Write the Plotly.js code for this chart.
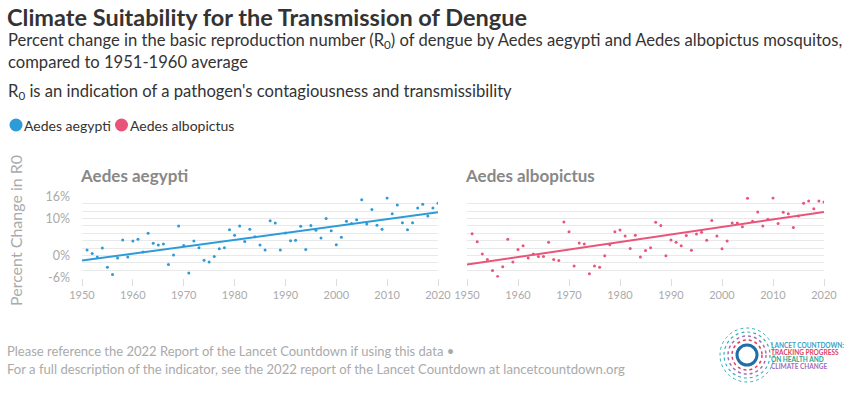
<!DOCTYPE html>
<html>
<head>
<meta charset="utf-8">
<script src="https://cdn.plot.ly/plotly-3.0.1.min.js"></script>
<style>
  html, body { margin: 0; padding: 0; background: #fff; }
  #chart { width: 849px; height: 393px; }
</style>
</head>
<body>
<div id="chart"></div>
<script>
// ---- data ----
const years = [1951,1952,1953,1954,1955,1956,1957,1958,1959,1960,
  1961,1962,1963,1964,1965,1966,1967,1968,1969,1970,
  1971,1972,1973,1974,1975,1976,1977,1978,1979,1980,
  1981,1982,1983,1984,1985,1986,1987,1988,1989,1990,
  1991,1992,1993,1994,1995,1996,1997,1998,1999,2000,
  2001,2002,2003,2004,2005,2006,2007,2008,2009,2010,
  2011,2012,2013,2014,2015,2016,2017,2018,2019,2020];

const aegypti = [1.45,0.54,-0.45,2.0,-3.2,-5.2,-0.7,4.2,-0.45,3.9,
  4.4,0.9,6.0,3.3,2.8,3.1,-2.5,0.1,8.0,2.7,
  -4.8,3.9,2.1,-1.3,-1.8,-0.3,1.8,2.1,7.0,5.5,
  8.0,3.8,7.1,5.1,2.8,1.45,9.4,8.8,1.45,6.1,
  4.0,4.1,7.9,1.6,8.1,6.8,4.7,10.0,6.7,2.9,
  4.9,9.3,8.7,9.7,15.1,8.5,12.5,8.2,7.1,15.6,
  11.3,13.7,8.9,7.0,8.9,12.9,13.9,10.7,12.9,14.2];

const albopictus = [5.9,3.7,0.4,-1.1,-4.1,-5.7,-3.1,4.4,-1.8,1.6,
  2.6,-0.7,0.4,-0.3,-0.3,3.6,-1.1,-1.4,9.1,6.4,
  -2.9,3.4,3.1,-5.0,-2.9,-3.2,-0.1,2.9,6.4,6.9,
  5.3,1.9,5.5,-0.4,1.3,2.1,9.0,8.1,-0.1,4.2,
  3.6,2.6,5.4,1.4,5.8,6.3,4.1,9.5,5.3,1.8,
  3.9,8.8,8.8,7.8,15.5,9.3,11.8,8.0,9.8,15.6,
  8.7,11.7,11.3,7.6,10.7,14.2,14.8,12.7,14.8,14.5];

// trend lines
const trendYears = [1950, 2020];
const aegyptiTrend = [-1.4, 11.7];
const albopictusTrend = [-2.5, 11.8];

const yTickVals = [-6, 0, 10, 16];
const yTickText = ['-6%', '0%', '10%', '16%'];
const xTickVals = [1950, 1960, 1970, 1980, 1990, 2000, 2010, 2020];

const seriesNames = ['Aedes aegypti', 'Aedes albopictus'];
const colors = ['#2e9bd9', '#e9557a'];

// ---- helpers for paper positions (pixels -> paper fraction) ----
const W = 849, H = 393;
const px = x => x / W;
const py = y => 1 - y / H;

const traces = [
  { x: years, y: aegypti, type: 'scatter', mode: 'markers', name: seriesNames[0],
    marker: { color: colors[0], size: 3 }, xaxis: 'x', yaxis: 'y', showlegend: false,
    hovertemplate: '%{x}: %{y:.1f}%<extra></extra>' },
  { x: trendYears, y: aegyptiTrend, type: 'scatter', mode: 'lines',
    line: { color: colors[0], width: 2 }, xaxis: 'x', yaxis: 'y', showlegend: false, hoverinfo: 'skip' },
  { x: years, y: albopictus, type: 'scatter', mode: 'markers', name: seriesNames[1],
    marker: { color: colors[1], size: 3 }, xaxis: 'x2', yaxis: 'y2', showlegend: false,
    hovertemplate: '%{x}: %{y:.1f}%<extra></extra>' },
  { x: trendYears, y: albopictusTrend, type: 'scatter', mode: 'lines',
    line: { color: colors[1], width: 2 }, xaxis: 'x2', yaxis: 'y2', showlegend: false, hoverinfo: 'skip' }
];

const FONT = 'Lato, "Source Sans Pro", "Noto Sans", sans-serif';
const LOGOFONT = 'Lato, sans-serif';

const xaxisBase = {
  range: [1950, 2020], tickvals: xTickVals, showgrid: false, zeroline: false,
  ticks: 'outside', ticklen: 7, tickcolor: '#dddddd', tickwidth: 1,
  showline: false, tickfont: { size: 11, color: '#aaaaaa', family: FONT },
  fixedrange: true
};
const yaxisBase = {
  range: [-6, 16], tickvals: yTickVals, ticktext: yTickText,
  showgrid: true, gridcolor: '#e9e9e9', gridwidth: 1, zeroline: false,
  minor: { tickmode: 'linear', tick0: 0, dtick: 2, showgrid: true, gridcolor: '#e9e9e9', gridwidth: 1, ticks: '' },
  ticks: '', ticklabelstandoff: 11, tickfont: { size: 12.5, color: '#aaaaaa', family: FONT },
  fixedrange: true
};

const annotations = [
  { text: '<b>Climate Suitability for the Transmission of Dengue</b>', x: px(6), y: py(17),
    font: { size: 23.5, color: '#333333' } },
  { text: 'Percent change in the basic reproduction number (R<sub>0</sub>) of dengue by Aedes aegypti and Aedes albopictus mosquitos,',
    x: px(7), y: py(40), font: { size: 16.6, color: '#333333' } },
  { text: 'compared to 1951-1960 average', x: px(7), y: py(62), font: { size: 16.6, color: '#333333' } },
  { text: 'R<sub>0</sub> is an indication of a pathogen\'s contagiousness and transmissibility',
    x: px(7), y: py(91), font: { size: 16.6, color: '#333333' } },
  { text: seriesNames[0], x: px(23), y: py(125), font: { size: 14, color: '#333333' } },
  { text: seriesNames[1], x: px(129), y: py(125), font: { size: 14, color: '#333333' } },
  { text: '<b>' + seriesNames[0] + '</b>', x: px(79), y: py(175), font: { size: 17, color: '#888888' } },
  { text: '<b>' + seriesNames[1] + '</b>', x: px(464), y: py(175), font: { size: 17, color: '#888888' } },
  { text: 'Percent Change in R0', x: px(15), y: py(231), textangle: -90, xanchor: 'center', yanchor: 'middle',
    font: { size: 16, color: '#aaaaaa' } },
  { text: 'Please reference the 2022 Report of the Lancet Countdown if using this data •',
    x: px(6), y: py(351), font: { size: 13, color: '#aaaaaa' } },
  { text: 'For a full description of the indicator, see the 2022 report of the Lancet Countdown at lancetcountdown.org',
    x: px(6), y: py(369), font: { size: 13.1, color: '#aaaaaa' } },
  // logo text
  { text: '<b>LANCET COUNTDOWN:</b>', x: px(770), y: py(345), font: { size: 6.5, color: '#3a9fc9', family: LOGOFONT } },
  { text: '<b>TRACKING PROGRESS</b>', x: px(770), y: py(352), font: { size: 6.5, color: '#e0405e', family: LOGOFONT } },
  { text: '<b>ON HEALTH AND</b>', x: px(770), y: py(359), font: { size: 6.5, color: '#2aa58f', family: LOGOFONT } },
  { text: '<b>CLIMATE CHANGE</b>', x: px(770), y: py(366), font: { size: 6.5, color: '#a070b8', family: LOGOFONT } }
].map(a => Object.assign({ xref: 'paper', yref: 'paper', xanchor: 'left', yanchor: 'middle', showarrow: false,
  borderpad: 0 }, a, { font: Object.assign({ family: FONT }, a.font) }));

function circlePx(cx, cy, r, opts) {
  return Object.assign({
    type: 'circle', xref: 'paper', yref: 'paper', xsizemode: 'pixel', ysizemode: 'pixel',
    xanchor: px(cx), yanchor: py(cy), x0: -r, x1: r, y0: -r, y1: r
  }, opts);
}

const shapes = [
  circlePx(16, 125, 6.5, { fillcolor: colors[0], line: { width: 0 } }),
  circlePx(121.5, 125, 6.5, { fillcolor: colors[1], line: { width: 0 } }),
  // logo rings
  circlePx(747, 355, 10, { line: { color: '#1f6ea8', width: 3 } }),
  circlePx(747, 355, 15, { line: { color: '#e0405e', width: 1.5, dash: 'dot' } }),
  circlePx(747, 355, 19, { line: { color: '#a070b8', width: 1.5, dash: 'dot' } }),
  circlePx(747, 355, 23, { line: { color: '#3ab0b8', width: 1.2, dash: 'dot' } }),
  circlePx(747, 355, 27, { line: { color: '#3ab0b8', width: 1, dash: 'dot' } })
];

const layout = {
  width: W, height: H,
  margin: { l: 0, r: 0, t: 0, b: 0 },
  paper_bgcolor: '#ffffff', plot_bgcolor: '#ffffff',
  font: { family: FONT },
  showlegend: false,
  xaxis: Object.assign({}, xaxisBase, { domain: [px(82), px(438)], anchor: 'y' }),
  yaxis: Object.assign({}, yaxisBase, { domain: [py(277.5), py(196.5)], anchor: 'x' }),
  xaxis2: Object.assign({}, xaxisBase, { domain: [px(467), px(824)], anchor: 'y2' }),
  yaxis2: Object.assign({}, yaxisBase, { domain: [py(277.5), py(196.5)], anchor: 'x2', showticklabels: false }),
  annotations: annotations,
  shapes: shapes
};

Plotly.newPlot('chart', traces, layout, { displayModeBar: false });
</script>
</body>
</html>
